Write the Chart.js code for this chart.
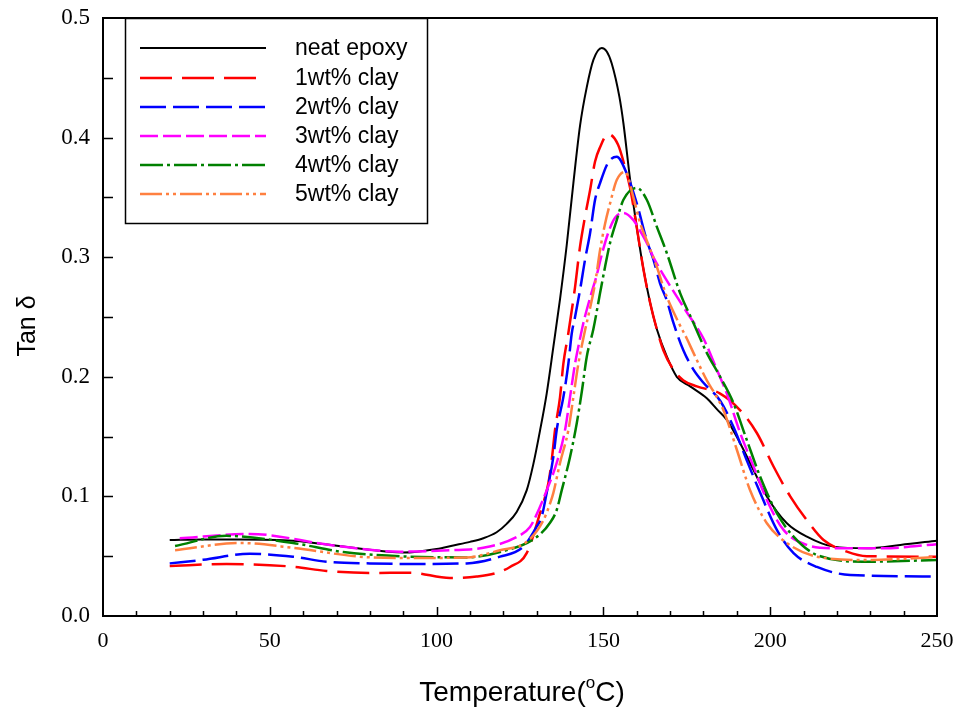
<!DOCTYPE html>
<html>
<head>
<meta charset="utf-8">
<script src="https://cdn.jsdelivr.net/npm/chart.js@4.4.0/dist/chart.umd.min.js"></script>
<style>
html,body{margin:0;padding:0;background:#fff;}
</style>
</head>
<body>
<canvas id="tanChart" width="959" height="716"></canvas>
<script>
// temperature (C) and tan delta
const neatT = [20,30,41,57,75,90,100,105,110,114,118,121,124,127,129,131,133,135,137,139,141,143,145,147,149.5,151,152.5,154.8,156,158,160,162,164,166,169,172,176,181,184,187,191,195,199,205,211,219,229,239,250];
const neatV = [0.0635,0.064,0.064,0.063,0.057,0.053,0.056,0.059,0.062,0.065,0.07,0.077,0.087,0.105,0.127,0.155,0.186,0.225,0.265,0.31,0.362,0.41,0.442,0.465,0.475,0.472,0.462,0.434,0.412,0.365,0.325,0.29,0.262,0.24,0.217,0.2,0.192,0.182,0.173,0.164,0.1445,0.122,0.1,0.0776,0.0664,0.058,0.0567,0.0594,0.063];

const clay1T = [20,37,57,67,80,92,104,112,118,122,127,131,133.5,134.5,135.5,137,138,139.5,141.5,143,144.5,146,147.5,149,151.4,154.4,156.5,158,160,162,164,166,168,171,174,178,185,191,196,201,206,211,216,223,229,250];
const clay1V = [0.0418,0.0435,0.0412,0.0376,0.036,0.0362,0.0318,0.033,0.036,0.041,0.0526,0.086,0.111,0.13,0.1555,0.183,0.211,0.2366,0.275,0.309,0.334,0.356,0.38,0.392,0.403,0.394,0.375,0.358,0.325,0.29,0.262,0.24,0.222,0.206,0.197,0.192,0.186,0.172,0.153,0.125,0.1,0.08,0.0635,0.0538,0.05,0.0496];

const clay2T = [20,30,44,57,67,80,92,109,119,126,130,131.5,133,135,136,138,139.5,140.5,141.5,143,144.5,146,147.5,149,151.4,154,157,160,163,165,167,169,171,174,177,180,185,189,193,197,202,207,214,224,250];
const clay2V = [0.044,0.047,0.052,0.0496,0.0454,0.044,0.0435,0.044,0.0496,0.058,0.0747,0.083,0.103,0.133,0.1555,0.183,0.211,0.236,0.25,0.2726,0.298,0.32,0.348,0.362,0.379,0.384,0.37,0.345,0.314,0.298,0.278,0.264,0.245,0.222,0.206,0.195,0.18,0.158,0.13,0.103,0.072,0.0526,0.041,0.0343,0.033];

const clay3T = [23,44,69,89,104,114,124,128,130,133,136,138.5,140,141.5,143,144,146,148,149.5,151.4,153.5,156,159,161,163,165,170,175,180,184,187,191,195,199,204,211,219,234,250];
const clay3V = [0.065,0.0686,0.059,0.0538,0.055,0.057,0.066,0.0745,0.085,0.105,0.128,0.1555,0.183,0.211,0.232,0.245,0.266,0.285,0.302,0.32,0.333,0.337,0.331,0.322,0.312,0.3,0.276,0.254,0.232,0.206,0.186,0.153,0.125,0.097,0.072,0.0594,0.0567,0.0567,0.06];

const clay4T = [21.6,37,57,72,92,109,119,130,134,136,137.5,140,142,143.6,145,147,149,150.5,152,154,156,160,163,166,169,173,177,181,185,189,193,197,202,207,214,229,250];
const clay4V = [0.0585,0.067,0.061,0.0535,0.0496,0.049,0.0535,0.066,0.078,0.0886,0.105,0.133,0.161,0.189,0.2166,0.24,0.27,0.292,0.312,0.331,0.348,0.358,0.348,0.3256,0.3035,0.27,0.245,0.22,0.2,0.178,0.147,0.1165,0.086,0.0664,0.051,0.0454,0.0468];

const clay5T = [21.6,41,57,77,92,109,119,127,132,134,135,137,139.5,141,142.5,144.5,145.4,147.5,149,150.5,152,154,156.5,159,161,163,166,169,172.6,175,177,181,184,186,190,194,199,205,214,229,250];
const clay5V = [0.055,0.061,0.057,0.0496,0.0485,0.049,0.055,0.062,0.08,0.094,0.103,0.128,0.1555,0.183,0.211,0.239,0.25,0.278,0.306,0.328,0.345,0.3645,0.3715,0.35,0.3286,0.314,0.292,0.267,0.245,0.232,0.22,0.197,0.183,0.172,0.139,0.105,0.0776,0.061,0.0496,0.0468,0.0493];

const seriesNames = ["neat epoxy", "1wt% clay", "2wt% clay", "3wt% clay", "4wt% clay", "5wt% clay"];
const xTicks = [0, 50, 100, 150, 200, 250];
const yTicks = [0.0, 0.1, 0.2, 0.3, 0.4, 0.5];

const colors = ['#000000', '#ff0000', '#0000ff', '#ff00ff', '#008000', '#ff8040'];
const dashes = [[], [32, 10], [26, 7], [18, 5], [23, 4, 3, 4], [22, 4, 3, 4, 3, 4]];
const temps = [neatT, clay1T, clay2T, clay3T, clay4T, clay5T];
const vals = [neatV, clay1V, clay2V, clay3V, clay4V, clay5V];

function points(t, v) {
  return t.map((x, i) => ({x: x, y: v[i]}));
}

// keep the scales from pushing the plot area in for their end labels
function noEdgePadding(s) {
  s.paddingTop = 0; s.paddingBottom = 0; s.paddingLeft = 0; s.paddingRight = 0;
}

// frame, inward ticks, axis titles and the boxed legend
const decorations = {
  id: 'decorations',
  afterDraw(chart) {
    const ctx = chart.ctx;
    const a = chart.chartArea;
    const xs = chart.scales.x, ys = chart.scales.y;
    ctx.save();
    ctx.strokeStyle = '#000';
    ctx.lineWidth = 2;
    ctx.strokeRect(a.left, a.top, a.right - a.left, a.bottom - a.top);

    ctx.lineWidth = 1.5;
    ctx.beginPath();
    for (let t = 10; t < 250; t += 10) {
      const px = Math.round(xs.getPixelForValue(t)) + 0.5;
      const len = (t % 50 === 0) ? 9 : 5;
      ctx.moveTo(px, a.bottom);
      ctx.lineTo(px, a.bottom - len);
    }
    for (let k = 1; k < 10; k++) {
      const py = Math.round(ys.getPixelForValue(k * 0.05)) + 0.5;
      ctx.moveTo(a.left, py);
      ctx.lineTo(a.left + 10, py);
    }
    ctx.stroke();

    // axis titles
    const big = '28px "Liberation Sans", Arial, sans-serif';
    const small = '17px "Liberation Sans", Arial, sans-serif';
    ctx.fillStyle = '#000';
    ctx.textBaseline = 'middle';
    ctx.textAlign = 'left';
    const part1 = 'Temperature(', sup = 'o', part2 = 'C)';
    ctx.font = big;
    const w1 = ctx.measureText(part1).width;
    const w3 = ctx.measureText(part2).width;
    ctx.font = small;
    const w2 = ctx.measureText(sup).width;
    const x0 = 522 - (w1 + w2 + w3) / 2;
    const ty = 693;
    ctx.font = big;
    ctx.fillText(part1, x0, ty);
    ctx.font = small;
    ctx.fillText(sup, x0 + w1, ty - 10);
    ctx.font = big;
    ctx.fillText(part2, x0 + w1 + w2, ty);

    ctx.save();
    ctx.translate(28, 326);
    ctx.rotate(-Math.PI / 2);
    ctx.textAlign = 'center';
    ctx.font = '25px "Liberation Sans", Arial, sans-serif';
    ctx.fillText('Tan \u03b4', 0, 0);
    ctx.restore();

    // legend box
    ctx.lineWidth = 1.5;
    ctx.strokeRect(125.5, 18.5, 302, 205);
    ctx.font = '23px "Liberation Sans", Arial, sans-serif';
    ctx.textAlign = 'left';
    const rows = [48, 78, 107, 136, 165, 194];
    seriesNames.forEach((name, i) => {
      ctx.strokeStyle = colors[i];
      ctx.lineWidth = i === 0 ? 2 : 2.5;
      ctx.setLineDash(dashes[i]);
      ctx.beginPath();
      ctx.moveTo(140, rows[i]);
      ctx.lineTo(266, rows[i]);
      ctx.stroke();
      ctx.setLineDash([]);
      ctx.fillStyle = '#000';
      ctx.fillText(name, 295, rows[i] + 1);
    });
    ctx.restore();
  }
};

new Chart(document.getElementById('tanChart'), {
  type: 'line',
  data: {
    datasets: seriesNames.map((name, i) => ({
      label: name,
      data: points(temps[i], vals[i]),
      borderColor: colors[i],
      borderWidth: i === 0 ? 2 : 2.5,
      borderDash: dashes[i],
      pointRadius: 0,
      fill: false,
      cubicInterpolationMode: 'monotone',
      order: 6 - i
    }))
  },
  options: {
    responsive: false,
    animation: false,
    layout: { padding: { top: 18, right: 22, left: 0, bottom: 0 } },
    plugins: {
      legend: { display: false },
      tooltip: { enabled: false }
    },
    scales: {
      x: {
        type: 'linear',
        min: 0,
        max: 250,
        afterBuildTicks: s => { s.ticks = xTicks.map(v => ({value: v})); },
        ticks: {
          color: '#000',
          padding: 12,
          maxRotation: 0,
          font: { family: '"Liberation Serif", "Times New Roman", serif', size: 22 }
        },
        grid: { display: false, drawTicks: false },
        border: { display: false },
        afterFit: s => { s.height = 100; noEdgePadding(s); }
      },
      y: {
        min: 0,
        max: 0.5,
        afterBuildTicks: s => { s.ticks = yTicks.map(v => ({value: v})); },
        ticks: {
          color: '#000',
          padding: 13,
          callback: v => v.toFixed(1),
          font: { family: '"Liberation Serif", "Times New Roman", serif', size: 23 }
        },
        grid: { display: false, drawTicks: false },
        border: { display: false },
        afterFit: s => { s.width = 103; noEdgePadding(s); }
      }
    }
  },
  plugins: [decorations]
});
</script>
</body>
</html>
